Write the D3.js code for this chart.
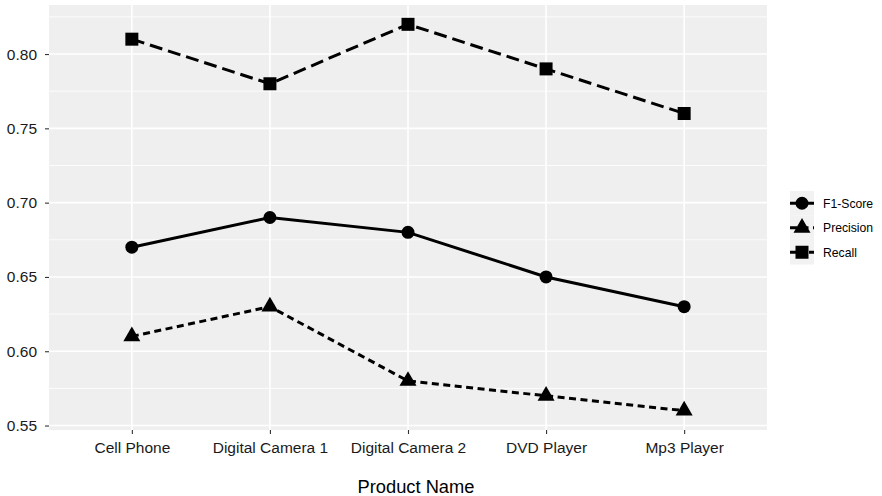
<!DOCTYPE html>
<html><head><meta charset="utf-8">
<script src="https://cdn.jsdelivr.net/npm/d3@7"></script>
<style>body{margin:0;background:#fff}svg{display:block;font-family:"Liberation Sans",Arial,sans-serif}</style>
</head><body>
<svg id="c" width="882" height="496"></svg>
<script>
const categories = ["Cell Phone","Digital Camera 1","Digital Camera 2","DVD Player","Mp3 Player"];
const seriesNames = ["F1-Score","Precision","Recall"];
const f1Values = [0.67,0.69,0.68,0.65,0.63];
const precisionValues = [0.61,0.63,0.58,0.57,0.56];
const recallValues = [0.81,0.78,0.82,0.79,0.76];
const yTicks = [0.55,0.60,0.65,0.70,0.75,0.80];
const yMinor = [0.575,0.625,0.675,0.725,0.775,0.825];

const series = [
  {name:"F1-Score", values:f1Values, dash:null, shape:"circle"},
  {name:"Precision", values:precisionValues, dash:"7,4.5", shape:"triangle"},
  {name:"Recall", values:recallValues, dash:"13,6", shape:"square"}
];

const svg = d3.select("#c");
const P = {l:49, r:767, t:5, b:430};

const x = d3.scalePoint().domain(categories).range([P.l, P.r]).padding(0.6);
const y = d3.scaleLinear().domain([0.547, 0.833]).range([P.b, P.t]);

svg.append("rect").attr("x",P.l).attr("y",P.t).attr("width",P.r-P.l).attr("height",P.b-P.t).attr("fill","#EFEFEF");

const g = svg.append("g");
g.selectAll(".mn").data(yMinor).join("line")
  .attr("x1",P.l).attr("x2",P.r).attr("y1",d=>y(d)).attr("y2",d=>y(d))
  .attr("stroke","#fff").attr("stroke-width",0.8);
g.selectAll(".mj").data(yTicks).join("line")
  .attr("x1",P.l).attr("x2",P.r).attr("y1",d=>y(d)).attr("y2",d=>y(d))
  .attr("stroke","#fff").attr("stroke-width",1.6);
g.selectAll(".vx").data(categories).join("line")
  .attr("x1",d=>x(d)).attr("x2",d=>x(d)).attr("y1",P.t).attr("y2",P.b)
  .attr("stroke","#fff").attr("stroke-width",1.6);

// axes
const yAxis = d3.axisLeft(y).tickValues(yTicks).tickFormat(d3.format(".2f")).tickSize(4).tickPadding(8);
const ya = svg.append("g").attr("transform",`translate(${P.l},0)`).call(yAxis);
ya.select(".domain").remove();
ya.selectAll(".tick line").attr("stroke","#333").attr("stroke-width",1.1);
ya.selectAll(".tick text").attr("fill","#1a1a1a").style("font-size","15.5px").style("font-family","Liberation Sans, Arial, sans-serif");

const xAxis = d3.axisBottom(x).tickSize(4).tickPadding(4);
const xa = svg.append("g").attr("transform",`translate(0,${P.b})`).call(xAxis);
xa.select(".domain").remove();
xa.selectAll(".tick line").attr("stroke","#333").attr("stroke-width",1.1);
xa.selectAll(".tick text").attr("fill","#1a1a1a").attr("dy",null).attr("y",23)
  .style("font-size","15.5px").style("font-family","Liberation Sans, Arial, sans-serif");

svg.append("text").attr("x",416).attr("y",492.5).attr("text-anchor","middle")
  .attr("fill","#000").style("font-size","18.3px").text("Product Name");

// lines
const line = d3.line().x((d,i)=>x(categories[i])).y(d=>y(d));
function symPath(shape){
  if(shape==="circle") return d3.symbol(d3.symbolCircle, Math.PI*6.5*6.5)();
  if(shape==="square") return d3.symbol(d3.symbolSquare, 13*13)();
  return d3.symbol(d3.symbolTriangle, 17*17*Math.sqrt(3)/4)();
}
series.forEach(s=>{
  svg.append("path").datum(s.values).attr("d",line).attr("fill","none")
    .attr("stroke","#000").attr("stroke-width",3)
    .attr("stroke-dasharray",s.dash);
  svg.selectAll(null).data(s.values).join("path")
    .attr("d",symPath(s.shape))
    .attr("transform",(d,i)=>`translate(${x(categories[i])},${y(d)})`)
    .attr("fill","#000");
});

// legend
const L = {x:790, y:191, w:24, h:24.5};
const lg = svg.append("g");
series.forEach((s,i)=>{
  const cy = L.y + i*L.h + L.h/2;
  lg.append("rect").attr("x",L.x).attr("y",L.y+i*L.h).attr("width",L.w).attr("height",L.h).attr("fill","#F2F2F2");
  lg.append("line").attr("x1",L.x).attr("x2",L.x+L.w).attr("y1",cy).attr("y2",cy)
    .attr("stroke","#000").attr("stroke-width",3).attr("stroke-dasharray",s.dash);
  lg.append("path").attr("d",symPath(s.shape)).attr("transform",`translate(${L.x+L.w/2},${cy})`).attr("fill","#000");
  lg.append("text").attr("x",823).attr("y",cy).attr("dy","0.35em")
    .attr("fill","#000").style("font-size","12.2px").text(s.name);
});
</script>
</body></html>
